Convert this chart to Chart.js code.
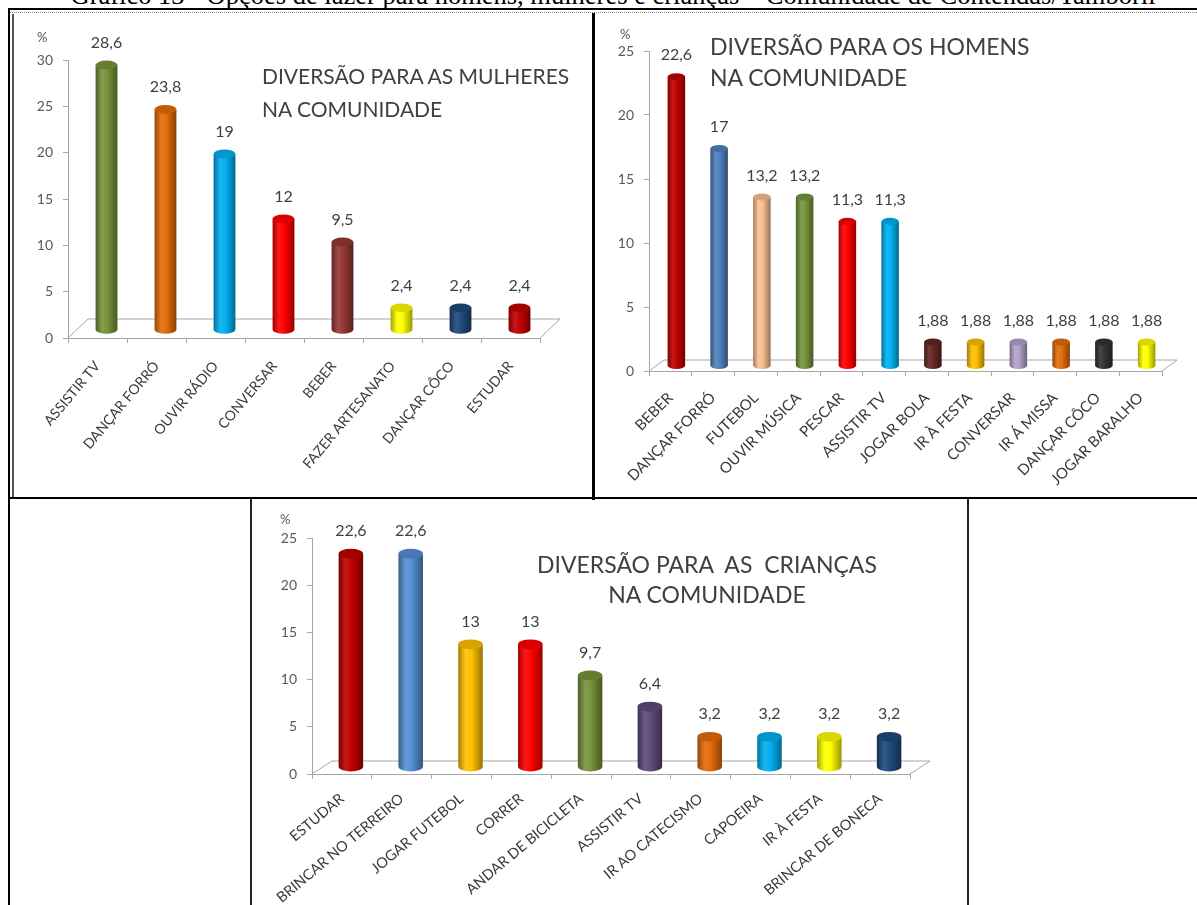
<!DOCTYPE html>
<html>
<head>
<meta charset="utf-8">
<script src="https://cdn.jsdelivr.net/npm/chart.js@4.4.1/dist/chart.umd.min.js"></script>
<style>
  html, body { margin: 0; padding: 0; background: #fff; }
  body { width: 1197px; height: 905px; position: relative; overflow: hidden; }
  .ln { position: absolute; background: #000; }
  canvas { position: absolute; }
  #caption { position: absolute; left: 0; width: 1226px; top: -18px; font: 26.5px "Liberation Serif"; line-height: 26.5px; text-align: center; white-space: nowrap; color: #000; }
  .ttl { position: absolute; font-family: Lato; color: #404040; white-space: pre; }
  .pct { position: absolute; font: 13px Lato; color: #595959; }
</style>
</head>
<body>
<div id="caption">Gráfico 13 - Opções de lazer para homens, mulheres e crianças – Comunidade de Contendas/Tamboril</div>

<!-- table / frame lines -->
<div class="ln" style="left:8px;top:8px;width:1189px;height:2px"></div>
<div style="position:absolute;left:10px;top:12px;width:1187px;border-top:1px dotted #888"></div>
<div class="ln" style="left:8px;top:8px;width:2px;height:897px"></div>
<div class="ln" style="left:12px;top:14px;width:2px;height:484px;background:#555"></div>
<div class="ln" style="left:592px;top:13px;width:3px;height:487px"></div>
<div class="ln" style="left:8px;top:497px;width:1189px;height:2px"></div>
<div class="ln" style="left:250px;top:499px;width:2px;height:406px;background:#222"></div>
<div class="ln" style="left:967px;top:499px;width:2px;height:406px;background:#222"></div>

<canvas id="womenChart" width="576" height="480" style="left:14px;top:16px"></canvas>
<canvas id="menChart" width="600" height="480" style="left:597px;top:16px"></canvas>
<canvas id="kidsChart" width="715" height="403" style="left:252px;top:502px"></canvas>

<div class="ttl" style="left:262px;top:59px;font-size:21px;line-height:33px">DIVERSÃO PARA AS MULHERES
NA COMUNIDADE</div>
<div class="ttl" style="left:710px;top:31px;font-size:23px;line-height:31px">DIVERSÃO PARA OS HOMENS
NA COMUNIDADE</div>
<div class="ttl" style="left:507px;top:549px;width:400px;text-align:center;font-size:23px;line-height:30px">DIVERSÃO PARA  AS  CRIANÇAS
NA COMUNIDADE</div>

<div class="pct" style="left:37px;top:29px">%</div>
<div class="pct" style="left:620px;top:26px">%</div>
<div class="pct" style="left:280px;top:511px">%</div>

<script>
// ---- data ----
const womenLabels = ['ASSISTIR TV', 'DANÇAR FORRÓ', 'OUVIR RÁDIO', 'CONVERSAR', 'BEBER', 'FAZER ARTESANATO', 'DANÇAR CÔCO', 'ESTUDAR'];
const womenValues = [28.6, 23.8, 19, 12, 9.5, 2.4, 2.4, 2.4];
const womenColors = ['#77933C', '#E46C0A', '#00B0F0', '#FF0000', '#953735', '#FFFF00', '#1F497D', '#C00000'];

const menLabels = ['BEBER', 'DANÇAR FORRÓ', 'FUTEBOL', 'OUVIR MÚSICA', 'PESCAR', 'ASSISTIR TV', 'JOGAR BOLA', 'IR À FESTA', 'CONVERSAR', 'IR Á MISSA', 'DANÇAR CÔCO', 'JOGAR BARALHO'];
const menValues = [22.6, 17, 13.2, 13.2, 11.3, 11.3, 1.88, 1.88, 1.88, 1.88, 1.88, 1.88];
const menColors = ['#C00000', '#4F81BD', '#FAC090', '#77933C', '#FF0000', '#00B0F0', '#632523', '#FFC000', '#B3A2C7', '#E46C0A', '#333333', '#FFFF00'];

const kidsLabels = ['ESTUDAR', 'BRINCAR NO TERREIRO', 'JOGAR FUTEBOL', 'CORRER', 'ANDAR DE BICICLETA', 'ASSISTIR TV', 'IR AO CATECISMO', 'CAPOEIRA', 'IR À FESTA', 'BRINCAR DE BONECA'];
const kidsValues = [22.6, 22.6, 13, 13, 9.7, 6.4, 3.2, 3.2, 3.2, 3.2];
const kidsColors = ['#C00000', '#558ED5', '#FFC000', '#FF0000', '#77933C', '#604A7B', '#E46C0A', '#00B0F0', '#FFFF00', '#1F497D'];

const womenTicks = [0, 5, 10, 15, 20, 25, 30];
const menTicks = [0, 5, 10, 15, 20, 25];
const kidsTicks = [0, 5, 10, 15, 20, 25];

Chart.defaults.font.family = 'Lato';

function shade(hex, amt) {
    const n = parseInt(hex.slice(1), 16);
    let r = n >> 16, g = (n >> 8) & 255, b = n & 255;
    if (amt < 0) {
        r *= 1 + amt; g *= 1 + amt; b *= 1 + amt;
    } else {
        r += (255 - r) * amt; g += (255 - g) * amt; b += (255 - b) * amt;
    }
    return `rgb(${r | 0},${g | 0},${b | 0})`;
}

// draws the 3d floor and turns every bar into a cylinder with its value on top
const cylinderPlugin = {
    id: 'cylinders',
    beforeDatasetsDraw(chart, args, opts) {
        const { ctx, chartArea: a } = chart;
        ctx.save();
        ctx.beginPath();
        ctx.moveTo(a.left, a.bottom);
        ctx.lineTo(a.left + opts.depthX, a.bottom - opts.depthY);
        ctx.lineTo(a.right + opts.depthX, a.bottom - opts.depthY);
        ctx.lineTo(a.right, a.bottom);
        ctx.strokeStyle = '#a6a6a6';
        ctx.lineWidth = 1;
        ctx.stroke();
        ctx.restore();
    },
    afterDatasetsDraw(chart, args, opts) {
        const { ctx } = chart;
        const ds = chart.data.datasets[0];
        const meta = chart.getDatasetMeta(0);
        ctx.save();
        meta.data.forEach((bar, i) => {
            const color = ds.cylColors[i];
            const w = bar.width;
            const rx = w / 2, ry = w * 0.2;
            const cx = bar.x + opts.shiftX;
            const top = bar.y - opts.shiftY;
            const bottom = bar.base - opts.shiftY;
            const left = cx - rx;

            const g = ctx.createLinearGradient(left, 0, left + w, 0);
            g.addColorStop(0, shade(color, -0.35));
            g.addColorStop(0.3, shade(color, 0.1));
            g.addColorStop(0.55, color);
            g.addColorStop(1, shade(color, -0.4));
            ctx.fillStyle = g;
            ctx.beginPath();
            ctx.moveTo(left, top);
            ctx.lineTo(left, bottom);
            ctx.ellipse(cx, bottom, rx, ry, 0, Math.PI, 0, true);
            ctx.lineTo(left + w, top);
            ctx.closePath();
            ctx.fill();

            ctx.beginPath();
            ctx.ellipse(cx, top, rx, ry, 0, 0, Math.PI * 2);
            ctx.fillStyle = shade(color, -0.15);
            ctx.fill();

            ctx.fillStyle = '#404040';
            ctx.font = opts.labelSize + 'px Lato';
            ctx.textAlign = 'center';
            ctx.textBaseline = 'middle';
            ctx.fillText(String(ds.data[i]).replace('.', ','), cx, top - ry - 18);
        });
        ctx.restore();
    }
};

function makeChart(id, labels, values, colors, ticks, cfg) {
    const el = document.getElementById(id);
    return new Chart(el.getContext('2d'), {
        type: 'bar',
        data: {
            labels: labels,
            datasets: [{
                data: values,
                cylColors: colors,
                backgroundColor: 'rgba(0,0,0,0)',
                barPercentage: cfg.barPct,
                categoryPercentage: 1
            }]
        },
        options: {
            responsive: false,
            animation: false,
            events: [],
            layout: { padding: { top: cfg.padTop, right: cfg.padRight, left: 0, bottom: 0 } },
            plugins: {
                legend: { display: false },
                tooltip: { enabled: false },
                cylinders: cfg.cyl
            },
            scales: {
                x: {
                    grid: { drawOnChartArea: false, color: '#a6a6a6', tickLength: 5 },
                    border: { color: '#a6a6a6' },
                    ticks: {
                        color: '#3a3a3a',
                        font: { size: cfg.xFont },
                        minRotation: cfg.rot,
                        maxRotation: cfg.rot,
                        autoSkip: false,
                        padding: cfg.xPad
                    },
                    afterFit: (s) => { s.height = cfg.xHeight; }
                },
                y: {
                    min: 0,
                    max: ticks[ticks.length - 1],
                    afterBuildTicks: (s) => { s.ticks = ticks.map(v => ({ value: v })); },
                    grid: { drawOnChartArea: false, color: '#a6a6a6', tickLength: 5 },
                    border: { color: '#a6a6a6' },
                    ticks: { color: '#595959', font: { size: 14 }, padding: 10 },
                    afterFit: (s) => { s.width = cfg.yWidth; }
                }
            }
        },
        plugins: [cylinderPlugin]
    });
}

makeChart('womenChart', womenLabels, womenValues, womenColors, womenTicks, {
    barPct: 0.37, padTop: 44, padRight: 50, yWidth: 54, xHeight: 158, rot: 50, xPad: 15, xFont: 14,
    cyl: { depthX: 20, depthY: 19, shiftX: 9, shiftY: 8, labelSize: 16 }
});
makeChart('menChart', menLabels, menValues, menColors, menTicks, {
    barPct: 0.41, padTop: 35, padRight: 35, yWidth: 52, xHeight: 125, rot: 45, xPad: 13, xFont: 15,
    cyl: { depthX: 15, depthY: 11, shiftX: 6, shiftY: 5, labelSize: 16 }
});
makeChart('kidsChart', kidsLabels, kidsValues, kidsColors, kidsTicks, {
    barPct: 0.41, padTop: 36, padRight: 57, yWidth: 60, xHeight: 131, rot: 40, xPad: 11, xFont: 14.5,
    cyl: { depthX: 20, depthY: 13, shiftX: 9, shiftY: 7, labelSize: 16 }
});
</script>
</body>
</html>
